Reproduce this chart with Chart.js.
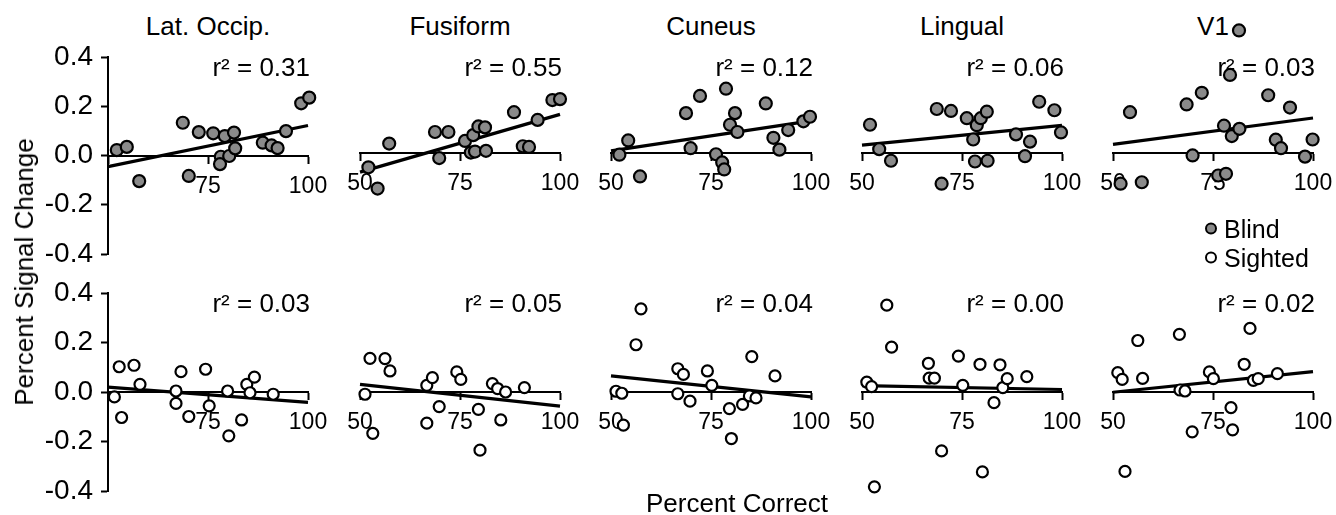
<!DOCTYPE html>
<html>
<head>
<meta charset="utf-8">
<script src="https://cdn.jsdelivr.net/npm/chart.js@4.4.1/dist/chart.umd.min.js"></script>
<style>
    html, body { margin: 0; padding: 0; background: #fff; }
    #wrap { position: relative; width: 1336px; height: 515px; overflow: hidden; font-family: 'Liberation Sans', Arial, sans-serif; color: #000; }
    #wrap canvas { position: absolute; }
    .txt { position: absolute; white-space: nowrap; line-height: 1; }
    .title { font-size: 26px; transform: translate(-50%, -50%); }
    .r2 { font-size: 26px; transform: translate(-100%, -50%); }
    .axis-label { font-size: 26px; }
    .legend-row { position: absolute; font-size: 25px; line-height: 1; white-space: nowrap; transform: translateY(-50%); }
    .legend-row span.dot { display: inline-block; width: 8px; height: 8px; border: 2px solid #000; border-radius: 50%; margin-right: 7px; vertical-align: middle; position: relative; top: -2px; }
</style>
</head>
<body>
<div id="wrap"></div>
<script>
// Region names (columns)
const regions = ['Lat. Occip.', 'Fusiform', 'Cuneus', 'Lingual', 'V1'];

// Blind group (top row): percent correct / percent signal change per region
const blindPctCorrect = [
    [52.2, 54.7, 57.8, 68.7, 70.2, 72.7, 76.3, 78.2, 78.0, 79.2, 80.3, 81.5, 81.8, 88.7, 90.9, 92.4, 94.5, 98.3, 100.3],
    [52.1, 54.4, 57.3, 68.75, 72.1, 69.8, 76.25, 78.3, 79.6, 81.25, 77.7, 78.75, 81.5, 88.5, 90.7, 92.25, 94.4, 98.1, 100],
    [52.1, 54.3, 57.25, 68.75, 72.25, 69.9, 76.25, 77.8, 78.3, 78.75, 79.75, 81, 81.6, 88.7, 90.6, 92.1, 94.3, 98.1, 99.75],
    [52, 54.3, 57.25, 68.7, 72.25, 69.9, 76.2, 77.8, 78.25, 78.7, 79.7, 81.2, 81.4, 88.5, 90.75, 92, 94.3, 98.1, 99.75],
    [51.9, 57.2, 54.25, 68.4, 72.2, 69.9, 76.3, 78.25, 77.75, 79.25, 79.7, 81.6, 81.5, 88.8, 90.7, 92, 94.25, 98, 99.9]
];
const blindSignal = [
    [0.022, 0.035, -0.104, 0.133, -0.083, 0.095, 0.090, -0.005, -0.035, 0.079, -0.002, 0.093, 0.029, 0.052, 0.041, 0.030, 0.099, 0.212, 0.235],
    [-0.059, -0.147, 0.039, 0.087, 0.087, -0.021, 0.05, 0.074, 0.11, 0.106, 0.002, 0.006, 0.009, 0.169, 0.028, 0.025, 0.137, 0.219, 0.223],
    [-0.007, 0.052, -0.097, 0.165, 0.236, 0.02, -0.005, -0.039, -0.068, 0.266, 0.117, 0.165, 0.087, 0.205, 0.063, 0.014, 0.095, 0.131, 0.15],
    [0.117, 0.016, -0.032, 0.182, 0.174, -0.127, 0.144, 0.056, -0.035, 0.115, 0.144, 0.171, -0.032, 0.077, -0.013, 0.047, 0.212, 0.177, 0.085],
    [-0.127, -0.121, 0.169, 0.201, 0.249, -0.01, -0.093, -0.086, 0.113, 0.323, 0.07, 0.1, 0.507, 0.239, 0.055, 0.02, 0.188, -0.015, 0.056]
];
// Fit line values at 50% and 100% correct
const blindFit = [[-0.045, 0.122], [-0.079, 0.16], [0.009, 0.133], [0.033, 0.114], [0.036, 0.145]];
const blindR2 = ['0.31', '0.55', '0.12', '0.06', '0.03'];

// Sighted group (bottom row)
const sightedPctCorrect = [
    [51.6, 52.8, 53.4, 56.5, 58, 67, 67, 68.25, 70.2, 74.4, 75.3, 79.9, 80.2, 83.4, 84.7, 85.5, 86.6, 91.3],
    [51.25, 52.5, 53.2, 56.25, 57.5, 66.7, 68.1, 66.7, 69.8, 74.2, 75.2, 79.6, 80, 83.1, 84.4, 86.4, 85.2, 91.1],
    [51.25, 52.7, 53.1, 56.25, 57.5, 66.7, 68.1, 66.7, 69.75, 74.1, 75.2, 79.6, 80.1, 82.9, 84.6, 86.25, 85.2, 91],
    [51.2, 52.4, 53.1, 56.2, 57.4, 66.6, 66.8, 68.1, 69.9, 74.1, 75.2, 79.5, 80.1, 83, 84.5, 85.2, 86.3, 91.2],
    [51.2, 52.3, 53, 56.2, 57.4, 66.6, 66.75, 68, 69.8, 74.1, 75.1, 79.5, 79.9, 82.8, 84.25, 85.1, 86.3, 91.1]
];
const sightedSignal = [
    [-0.02, 0.102, -0.103, 0.108, 0.031, 0.004, -0.046, 0.082, -0.099, 0.092, -0.056, 0.004, -0.177, -0.113, 0.031, -0.003, 0.06, -0.009],
    [-0.009, 0.136, -0.167, 0.135, 0.085, 0.027, 0.058, -0.126, -0.059, 0.081, 0.051, -0.07, -0.235, 0.034, 0.014, 0.0, -0.113, 0.018],
    [0.003, -0.005, -0.134, 0.191, 0.336, 0.094, 0.071, -0.007, -0.037, 0.085, 0.027, -0.067, -0.188, -0.05, -0.016, -0.024, 0.143, 0.065],
    [0.04, 0.022, -0.383, 0.351, 0.181, 0.116, 0.056, 0.056, -0.238, 0.145, 0.027, 0.112, -0.323, -0.043, 0.11, 0.018, 0.054, 0.062],
    [0.078, 0.051, -0.321, 0.208, 0.055, 0.233, 0.008, 0.004, -0.161, 0.081, 0.054, -0.063, -0.153, 0.112, 0.257, 0.047, 0.054, 0.074]
];
const sightedFit = [[0.02, -0.042], [0.031, -0.057], [0.065, -0.02], [0.026, 0.01], [-0.001, 0.082]];
const sightedR2 = ['0.03', '0.05', '0.04', '0.00', '0.02'];

const xRange = [50, 100];
const yAxisRange = [-0.4, 0.4];     // range of the visible y spine

const FONT = "'Liberation Sans', Arial, sans-serif";
const BLIND_FILL = '#8a8a8a';

// layout of panels in page pixels; panels without a spine get extra room for outliers
const panelLeft = [108, 360, 611, 862, 1113];
const panelWidth = 200;
const rows = [
    { top: 0, height: 270, zero: 155.5, perUnit: 246.25, hidden: [-0.45, 0.55] },
    { top: 270, height: 245, zero: 392, perUnit: 247.5, hidden: [-0.45, 0.45] }
];

const wrap = document.getElementById('wrap');

function addText(cls, text, x, y) {
    const d = document.createElement('div');
    d.className = 'txt ' + cls;
    d.textContent = text;
    d.style.left = x + 'px';
    d.style.top = y + 'px';
    wrap.appendChild(d);
    return d;
}

function makePanel(row, col) {
    const r = rows[row];
    const isLeft = col === 0;
    const yr = isLeft ? yAxisRange : r.hidden;
    const areaTop = r.zero - yr[1] * r.perUnit;
    const areaBottom = r.zero - yr[0] * r.perUnit;
    const padL = isLeft ? 0 : 30;
    const padR = 22;
    const canvasLeft = isLeft ? 0 : panelLeft[col] - padL;
    const canvasWidth = panelLeft[col] + panelWidth + padR - canvasLeft;

    const canvas = document.createElement('canvas');
    canvas.width = canvasWidth;
    canvas.height = r.height;
    canvas.style.left = canvasLeft + 'px';
    canvas.style.top = r.top + 'px';
    canvas.style.width = canvasWidth + 'px';
    canvas.style.height = r.height + 'px';
    wrap.appendChild(canvas);

    const xs = row === 0 ? blindPctCorrect[col] : sightedPctCorrect[col];
    const ys = row === 0 ? blindSignal[col] : sightedSignal[col];
    const fit = row === 0 ? blindFit[col] : sightedFit[col];
    const points = xs.map((x, i) => ({ x: x, y: ys[i] }));

    new Chart(canvas, {
        type: 'scatter',
        data: {
            datasets: [
                {
                    label: row === 0 ? 'Blind' : 'Sighted',
                    data: points,
                    pointRadius: row === 0 ? 6 : 5.5,
                    pointHoverRadius: 6,
                    pointBackgroundColor: row === 0 ? BLIND_FILL : '#fff',
                    pointBorderColor: '#000',
                    pointBorderWidth: 2.2,
                    clip: false,
                    order: 0
                },
                {
                    label: 'fit',
                    data: [{ x: xRange[0], y: fit[0] }, { x: xRange[1], y: fit[1] }],
                    showLine: true,
                    borderColor: '#000',
                    borderWidth: 3.2,
                    pointRadius: 0,
                    clip: false,
                    order: 1
                }
            ]
        },
        options: {
            responsive: false,
            animation: false,
            devicePixelRatio: 1,
            layout: {
                padding: {
                    left: padL,
                    right: padR,
                    top: areaTop - r.top,
                    bottom: r.top + r.height - areaBottom
                }
            },
            plugins: {
                legend: { display: false },
                tooltip: { enabled: false }
            },
            scales: {
                x: {
                    type: 'linear',
                    min: xRange[0],
                    max: xRange[1],
                    position: { y: 0 },
                    // axis sits on y = 0 and must not shrink the plot area
                    afterFit: (s) => { s.height = 0; s.paddingLeft = 0; s.paddingRight = 0; },
                    border: { display: true, color: '#000', width: 2 },
                    grid: { display: true, drawOnChartArea: false, drawTicks: true, tickLength: 7, tickWidth: 2, tickColor: '#000' },
                    ticks: {
                        stepSize: 25,
                        autoSkip: false,
                        maxRotation: 0,
                        padding: 10,
                        color: '#000',
                        font: { family: FONT, size: 23 },
                        callback: (v) => (isLeft && v === 50) ? '' : String(v)
                    }
                },
                y: {
                    type: 'linear',
                    min: yr[0],
                    max: yr[1],
                    display: isLeft,
                    afterFit: (s) => { s.width = isLeft ? panelLeft[0] : 0; s.paddingTop = 0; s.paddingBottom = 0; },
                    border: { display: true, color: '#000', width: 2 },
                    grid: { display: true, drawOnChartArea: false, drawTicks: true, tickLength: 7, tickWidth: 2, tickColor: '#000' },
                    ticks: {
                        stepSize: 0.2,
                        padding: 8,
                        color: '#000',
                        font: { family: FONT, size: 28 },
                        callback: (v) => Math.abs(v) < 1e-9 ? '0.0' : v.toFixed(1)
                    }
                }
            }
        }
    });

    // r² annotation
    const r2 = row === 0 ? blindR2[col] : sightedR2[col];
    addText('r2', 'r\u00B2 = ' + r2, panelLeft[col] + panelWidth + 2, row === 0 ? 67 : 303);
}

regions.forEach((name, col) => {
    addText('title', name, panelLeft[col] + panelWidth / 2, 26);
    makePanel(0, col);
    makePanel(1, col);
});

// axis labels
const yLab = addText('axis-label', 'Percent Signal Change', 24, 272);
yLab.style.transform = 'translate(-50%, -50%) rotate(-90deg)';
const xLab = addText('axis-label', 'Percent Correct', 737, 503);
xLab.style.transform = 'translate(-50%, -50%)';

// legend
[['Blind', BLIND_FILL, 229], ['Sighted', '#fff', 258]].forEach(([name, fill, y]) => {
    const row = document.createElement('div');
    row.className = 'legend-row';
    row.style.left = '1205px';
    row.style.top = y + 'px';
    const dot = document.createElement('span');
    dot.className = 'dot';
    dot.style.background = fill;
    row.appendChild(dot);
    row.appendChild(document.createTextNode(name));
    wrap.appendChild(row);
});
</script>
</body>
</html>
